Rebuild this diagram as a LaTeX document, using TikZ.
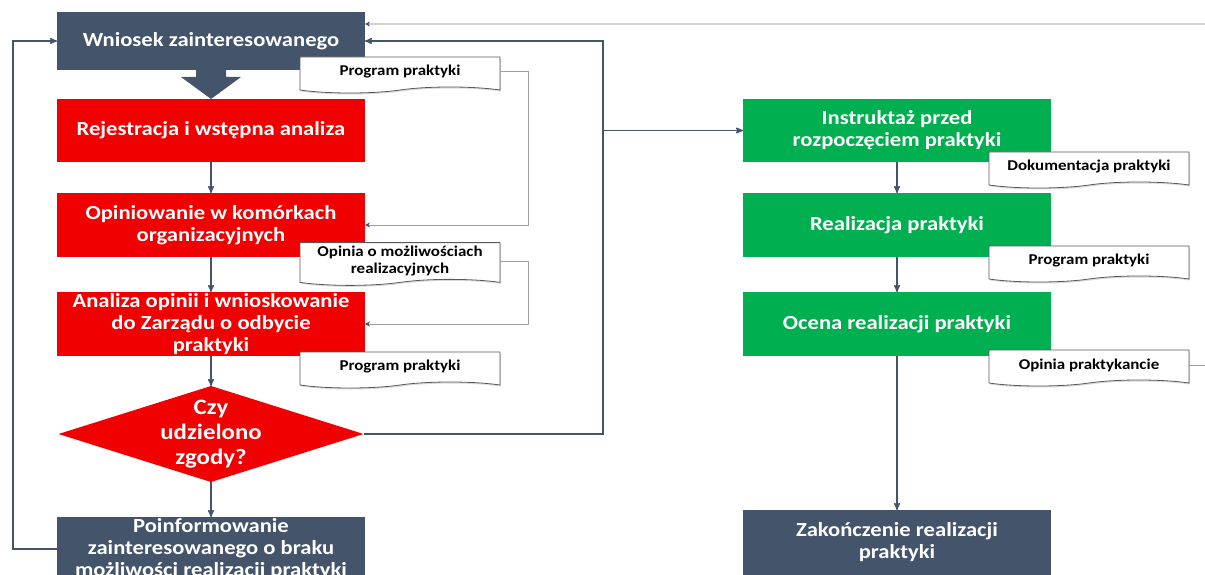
\documentclass[tikz,border=0pt]{standalone}
\usepackage{fontspec}
\setmainfont{Carlito}[FakeStretch=1.13]
\usepackage{tikz}
\usepackage{xcolor}
\usetikzlibrary{positioning, arrows, arrows.meta, shapes.geometric, shapes.symbols, shadows}

\definecolor{flowslate}{HTML}{44546A}
\definecolor{flowred}{HTML}{F00000}
\definecolor{flowgreen}{HTML}{00B050}
\definecolor{notegray}{HTML}{595959}
\definecolor{linegray}{HTML}{A0A0A0}
\definecolor{palegray}{HTML}{D0D0D0}

\begin{document}
\begin{tikzpicture}[->,>=stealth',x=1pt,y=-1pt,line width=1.4pt]
        \tikzstyle{stepbox}=[rectangle,draw=none,text=white,align=center,inner sep=0pt,outer sep=0pt,
                             font=\bfseries\fontsize{20}{22}\selectfont,minimum width=308pt,minimum height=64pt]
        \tikzstyle{slatebox}=[stepbox,fill=flowslate]
        \tikzstyle{redstep}=[stepbox,fill=flowred]
        \tikzstyle{greenstep}=[stepbox,fill=flowgreen]
        \tikzstyle{decision}=[diamond,fill=flowred,text=white,align=center,inner sep=-20pt,outer sep=0pt,
                              font=\bfseries\fontsize{22}{25}\selectfont,minimum width=305pt,minimum height=96pt]
        \tikzstyle{docnote}=[tape,tape bend top=none,tape bend height=6pt,draw=notegray,line width=0.8pt,
                             fill=white,text=black,align=center,font=\bfseries\fontsize{15}{17}\selectfont,
                             minimum width=200pt,minimum height=36pt,
                             drop shadow={opacity=0.3,shadow xshift=1pt,shadow yshift=-1.5pt}]
        \tikzstyle{flow}=[draw=flowslate,line width=1.4pt]
        \tikzstyle{feed}=[draw=linegray,line width=1pt,-{Stealth[length=5pt,width=5pt,color=flowslate]}]

        \useasboundingbox (0,0) rectangle (1205,575);
        \clip (0,0) rectangle (1205,575);

        % left column
        \node[slatebox,minimum height=58pt] (wn) at (211,41) {Wniosek zainteresowanego};
        \node[redstep,minimum height=63pt,below=29pt of wn] (rej) {Rejestracja i wstępna analiza};
        \node[redstep,below=31pt of rej] (opi) {Opiniowanie w komórkach\\organizacyjnych};
        \node[redstep,inner ysep=-4pt,below=35pt of opi] (ana) {Analiza opinii i wnioskowanie\\do Zarządu o odbycie\\praktyki};
        \node[decision,below=30pt of ana] (dec) {Czy\\udzielono\\zgody?};
        \node[slatebox,inner ysep=-4pt,below=35pt of dec] (poi) {Poinformowanie\\zainteresowanego o braku\\możliwości realizacji praktyki};

        % right column
        \node[greenstep,minimum height=63pt,right=378pt of rej] (ins) {Instruktaż przed\\rozpoczęciem praktyki};
        \node[greenstep,below=31pt of ins] (rea) {Realizacja praktyki};
        \node[greenstep,below=35pt of rea] (oce) {Ocena realizacji praktyki};
        \node[slatebox,minimum height=65pt,below=154pt of oce] (zak) {Zakończenie realizacji\\praktyki};

        \fill[flowslate] ([xshift=-15pt]wn.south) -- ++(0,7) -- ++(-15,0) -- (rej.north)
              -- ++(30,-22) -- ++(-15,0) -- ++(0,-7) -- cycle;

        \path[flow] (rej) edge (opi)
                    (opi) edge (ana)
                    (ana) edge (dec)
                    (dec) edge (poi)
                    (ins) edge (rea)
                    (rea) edge (oce)
                    (oce) edge (zak);

        \coordinate (bus) at (603,434);
        \coordinate (edge) at (1205,24);
        \draw[flow] (poi.west) -- ++(-44,0) |- (wn.west);
        \draw[flow] (dec.east) -- (bus) |- (wn.east);
        \draw[flow] (bus |- ins.west) -- (ins.west);
        \draw[feed,draw=palegray,line width=1.4pt] (edge) -- (edge -| wn.east);

        % documents
        \node[docnote] (progA) at (400,72) {Program praktyki};
        \node[docnote,minimum height=42pt] (opin) at (400,261) {Opinia o możliwościach\\realizacyjnych};
        \node[docnote] (progB) at (400,367) {Program praktyki};
        \node[docnote] (dokum) at (1089,167) {Dokumentacja praktyki};
        \node[docnote] (progC) at (1089,261) {Program praktyki};
        \node[docnote] (opPr) at (1089,365) {Opinia praktykancie};

        \draw[feed] (progA.east) -- ++(28,0) |- (opi.east);
        \draw[feed] (opin.east) -- ++(28,0) |- (ana.east);
        \draw[feed,-] (opPr.east) -- (opPr.east -| edge);
\end{tikzpicture}
\end{document}
